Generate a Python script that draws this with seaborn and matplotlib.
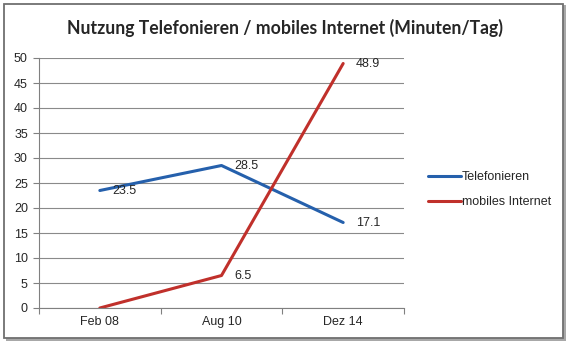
import matplotlib
matplotlib.use("Agg")
import matplotlib.pyplot as plt
from matplotlib.patches import Rectangle
import seaborn as sns
import pandas as pd

categories = ["Feb 08", "Aug 10", "Dez 14"]
telefonieren = [23.5, 28.5, 17.1]
mobiles_internet = [0.0, 6.5, 48.9]
series_names = ["Telefonieren", "mobiles Internet"]
colors = ["#2560AC", "#C0302B"]
y_ticks = list(range(0, 51, 5))

df = pd.DataFrame({
    "pos": list(range(len(categories))) * 2,
    "value": telefonieren + mobiles_internet,
    "series": [series_names[0]] * 3 + [series_names[1]] * 3,
})

sns.set_style("white")
plt.rcParams["font.family"] = ["Liberation Sans", "DejaVu Sans"]

fig = plt.figure(figsize=(5.7, 3.44), dpi=100)
fig.patch.set_facecolor("white")

# outer frame with a soft shadow
fig.patches.append(Rectangle((6 / 570, 3 / 344), 560 / 570, 336 / 344,
                             transform=fig.transFigure, facecolor="#a8a8a8",
                             edgecolor="none", zorder=-20))
fig.patches.append(Rectangle((4 / 570, 6 / 344), 559 / 570, 334 / 344,
                             transform=fig.transFigure, facecolor="white",
                             edgecolor="#707070", linewidth=1.3, zorder=-10))

ax = fig.add_axes([39 / 570, 36 / 344, 365 / 570, 250 / 344])
ax.set_facecolor("none")

sns.lineplot(data=df, x="pos", y="value", hue="series", palette=colors,
             linewidth=2.2, ax=ax, legend=True)

ax.set_xlim(-0.5, 2.5)
ax.set_ylim(0, 50)
ax.set_yticks(y_ticks)
ax.set_yticklabels([str(t) for t in y_ticks], fontsize=9)
ax.set_xticks(range(len(categories)))
ax.set_xticklabels(categories, fontsize=9)
ax.tick_params(axis="x", length=0, pad=6)
ax.tick_params(axis="y", length=4, width=0.8, color="#808080", pad=4, left=True)
ax.set_xticks([-0.5, 0.5, 1.5, 2.5], minor=True)
ax.tick_params(axis="x", which="minor", length=4, width=0.8, color="#808080", bottom=True)
ax.grid(axis="y", color="#8a8a8a", linewidth=0.8)
ax.set_axisbelow(True)
ax.set_xlabel("")
ax.set_ylabel("")
for side in ["top", "right"]:
    ax.spines[side].set_visible(False)
for side in ["left", "bottom"]:
    ax.spines[side].set_color("#808080")
    ax.spines[side].set_linewidth(0.8)

# value labels to the right of each point
for i, v in enumerate(telefonieren):
    ax.annotate(f"{v:.1f}", (i, v), xytext=(9, -0.5), textcoords="offset points",
                va="center", ha="left", fontsize=9)
for i, v in enumerate(mobiles_internet):
    if v > 0:
        ax.annotate(f"{v:.1f}", (i, v), xytext=(9, -0.5), textcoords="offset points",
                    va="center", ha="left", fontsize=9)

leg = ax.legend(loc="center left", bbox_to_anchor=(1.035, 0.474), frameon=False,
                fontsize=9, handlelength=2.6, handletextpad=0.1, labelspacing=1.05)

fig.text(0.5, 1 - 28 / 344, "Nutzung Telefonieren / mobiles Internet (Minuten/Tag)",
         ha="center", va="center", fontsize=12.7, fontweight="bold",
         family=["Lato", "DejaVu Sans"])

fig.savefig("out.png", dpi=100)
